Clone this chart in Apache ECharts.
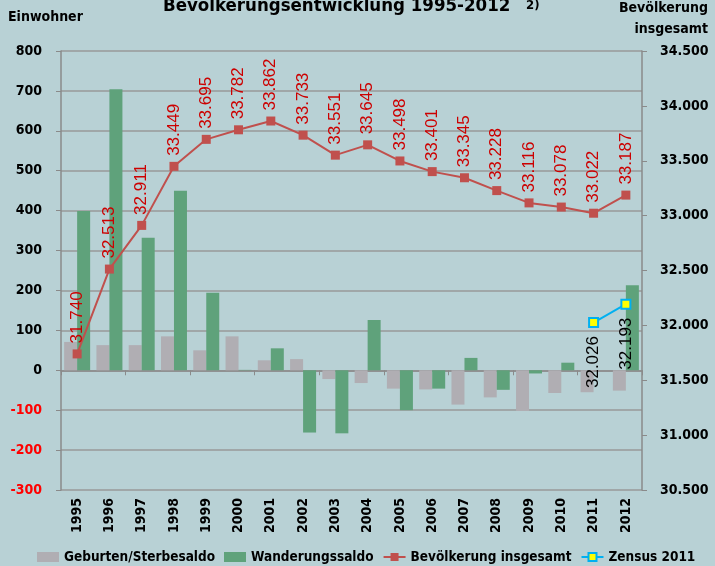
<!DOCTYPE html>
<html>
<head>
<meta charset="utf-8">
<script src="https://cdn.jsdelivr.net/npm/echarts@6/dist/echarts.min.js"></script>
<style>
  html, body { margin: 0; padding: 0; background: #b8d1d5; }
  #chart { width: 715px; height: 566px; }
</style>
</head>
<body>
<div id="chart"></div>
<script>
// years on the x axis
var years = ['1995', '1996', '1997', '1998', '1999', '2000', '2001', '2002', '2003',
  '2004', '2005', '2006', '2007', '2008', '2009', '2010', '2011', '2012'];

// left axis (Einwohner)
var geburtenSterbesaldo = [71, 63, 63, 85, 50, 85, 25, 28, -22, -32, -46, -48, -86, -68, -102, -57, -55, -51];
var wanderungssaldo = [399, 704, 332, 450, 194, 1, 55, -156, -158, 126, -100, -46, 31, -49, -8, 19, 0, 213];

// right axis (Bevölkerung insgesamt)
var bevoelkerung = [31740, 32513, 32911, 33449, 33695, 33782, 33862, 33733, 33551,
  33645, 33498, 33401, 33345, 33228, 33116, 33078, 33022, 33187];
var zensus = [null, null, null, null, null, null, null, null, null,
  null, null, null, null, null, null, null, 32026, 32193];

var FONT = "'DejaVu Sans Condensed', 'DejaVu Sans', sans-serif";

function dotted(v) {
  return String(v).replace(/\B(?=(\d{3})+(?!\d))/g, '.');
}

var chart = echarts.init(document.getElementById('chart'));

var option = {
  backgroundColor: '#b8d1d5',
  animation: false,
  textStyle: { fontFamily: FONT },
  title: [
    {
      text: 'Bevölkerungsentwicklung 1995-2012',
      left: 158, top: -8,
      textStyle: { fontFamily: FONT, fontSize: 18.5, fontWeight: 'bold', color: '#000' }
    },
    {
      text: '2)',
      left: 521, top: -6,
      textStyle: { fontFamily: FONT, fontSize: 13, fontWeight: 'bold', color: '#000' }
    },
    {
      text: 'Einwohner',
      left: 3, top: 5,
      textStyle: { fontFamily: FONT, fontSize: 14, fontWeight: 'bold', color: '#000' }
    },
    {
      text: 'Bevölkerung',
      right: 2, top: -4,
      textStyle: { fontFamily: FONT, fontSize: 14, fontWeight: 'bold', color: '#000' }
    },
    {
      text: 'insgesamt',
      right: 2, top: 17,
      textStyle: { fontFamily: FONT, fontSize: 14, fontWeight: 'bold', color: '#000' }
    }
  ],
  color: ['#b0aeb3', '#5fa27b', '#c0504d', '#00b0f0'],
  legend: {
    left: 32, top: 545, width: 690,
    itemWidth: 22, itemHeight: 10, itemGap: 9,
    textStyle: { fontFamily: FONT, fontSize: 13.5, fontWeight: 'bold', color: '#000' },
    data: [
      { name: 'Geburten/Sterbesaldo', icon: 'rect' },
      { name: 'Wanderungssaldo', icon: 'rect' },
      'Bevölkerung insgesamt',
      'Zensus 2011'
    ]
  },
  grid: { left: 61, right: 73, top: 51, bottom: 76 },
  xAxis: [
    {
      type: 'category',
      data: years,
      axisLine: { onZero: true, lineStyle: { color: '#8a8a8a', width: 1.5 } },
      axisTick: { show: true, length: 5, lineStyle: { color: '#8a8a8a' } },
      axisLabel: { show: false }
    },
    {
      type: 'category',
      data: years,
      position: 'bottom',
      axisLine: { show: false, onZero: false },
      axisTick: { show: false },
      axisLabel: {
        rotate: 90, margin: 8,
        fontFamily: FONT, fontSize: 14, fontWeight: 'bold', color: '#000'
      }
    }
  ],
  yAxis: [
    {
      type: 'value',
      min: -300, max: 800, interval: 100,
      axisLine: { show: true, lineStyle: { color: '#8a8a8a', width: 1.5 } },
      axisTick: { show: true, length: 5, lineStyle: { color: '#8a8a8a' } },
      splitLine: { lineStyle: { color: '#999', width: 1.5 } },
      axisLabel: {
        margin: 19,
        fontFamily: FONT, fontSize: 14, fontWeight: 'bold',
        color: function (v) { return v < 0 ? '#ff0000' : '#000'; }
      }
    },
    {
      type: 'value',
      min: 30500, max: 34500, interval: 500,
      axisLine: { show: true, lineStyle: { color: '#8a8a8a', width: 1.5 } },
      axisTick: { show: true, length: 5, lineStyle: { color: '#8a8a8a' } },
      splitLine: { show: false },
      axisLabel: {
        margin: 18,
        fontFamily: FONT, fontSize: 14, fontWeight: 'bold', color: '#000',
        formatter: dotted
      }
    }
  ],
  series: [
    {
      name: 'Geburten/Sterbesaldo',
      type: 'bar',
      data: geburtenSterbesaldo,
      barWidth: 13,
      barGap: '0%',
      itemStyle: { color: '#b0aeb3' }
    },
    {
      name: 'Wanderungssaldo',
      type: 'bar',
      data: wanderungssaldo,
      barWidth: 13,
      barGap: '0%',
      itemStyle: { color: '#5fa27b' }
    },
    {
      name: 'Bevölkerung insgesamt',
      type: 'line',
      yAxisIndex: 1,
      data: bevoelkerung,
      symbol: 'rect',
      symbolSize: 9,
      lineStyle: { color: '#c0504d', width: 2 },
      itemStyle: { color: '#c0504d' },
      label: {
        show: true,
        position: 'top',
        distance: 6,
        rotate: 90,
        align: 'left',
        verticalAlign: 'middle',
        fontFamily: "'Liberation Sans', Arial, sans-serif",
        fontSize: 17,
        color: '#cc0000',
        formatter: function (p) { return dotted(p.value); }
      }
    },
    {
      name: 'Zensus 2011',
      type: 'line',
      yAxisIndex: 1,
      data: zensus,
      symbol: 'rect',
      symbolSize: 9,
      lineStyle: { color: '#00b0f0', width: 2 },
      itemStyle: { color: '#ffff00', borderColor: '#00b0f0', borderWidth: 2 },
      label: {
        show: true,
        position: 'bottom',
        distance: 8,
        rotate: 90,
        align: 'right',
        verticalAlign: 'middle',
        fontFamily: "'Liberation Sans', Arial, sans-serif",
        fontSize: 17,
        color: '#000',
        formatter: function (p) { return dotted(p.value); }
      }
    }
  ]
};

chart.setOption(option);
</script>
</body>
</html>
